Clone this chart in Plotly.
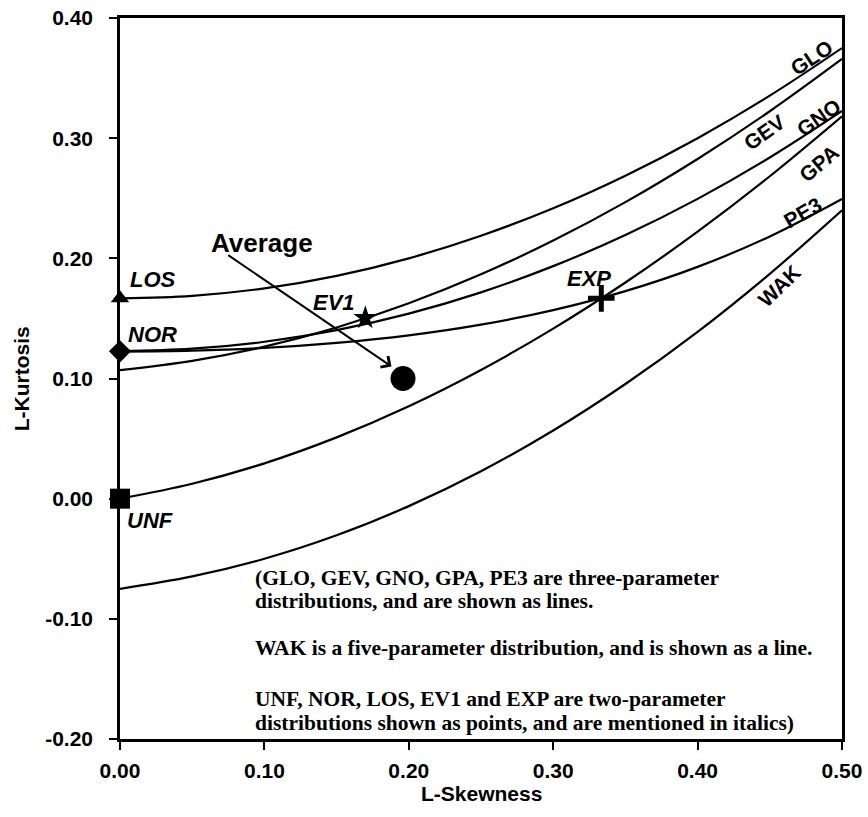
import plotly.graph_objects as go

# L-skewness grid for the theoretical curves
tau3 = [0.00, 0.05, 0.10, 0.15, 0.20, 0.25, 0.30, 0.35, 0.40, 0.45, 0.50]

# L-kurtosis of each three-parameter / five-parameter curve
glo = [0.1667, 0.1688, 0.1750, 0.1854, 0.2000, 0.2188, 0.2417, 0.2688, 0.3000, 0.3354, 0.3750]
gev = [0.1070, 0.1147, 0.1265, 0.1425, 0.1626, 0.1867, 0.2148, 0.2468, 0.2827, 0.3224, 0.3659]
gno = [0.1228, 0.1248, 0.1306, 0.1403, 0.1540, 0.1717, 0.1935, 0.2194, 0.2495, 0.2839, 0.3226]
gpa = [0.0000, 0.0124, 0.0294, 0.0510, 0.0769, 0.1071, 0.1415, 0.1799, 0.2222, 0.2683, 0.3182]
pe3 = [0.1224, 0.1232, 0.1255, 0.1297, 0.1359, 0.1448, 0.1569, 0.1727, 0.1929, 0.2182, 0.2494]
wak = [-0.0750, -0.0647, -0.0500, -0.0305, -0.0062, 0.0228, 0.0567, 0.0954, 0.1388, 0.1871, 0.2400]

curve_names = ["GLO", "GEV", "GNO", "GPA", "PE3", "WAK"]
curve_values = [glo, gev, gno, gpa, pe3, wak]

# two-parameter distributions (points)
point_names = ["UNF", "NOR", "LOS", "EV1", "EXP"]
point_x = [0.0, 0.0, 0.0, 0.1699, 0.3333]
point_y = [0.0, 0.1226, 0.1667, 0.1504, 0.1667]
point_symbols = ["square", "diamond", "triangle-up", "star", "cross-thin"]
point_sizes = [20, 17, 16, 18, 19]

# observed average
avg_x = [0.196]
avg_y = [0.100]

x_ticks = [0.0, 0.1, 0.2, 0.3, 0.4, 0.5]
y_ticks = [-0.2, -0.1, 0.0, 0.1, 0.2, 0.3, 0.4]

SANS = "Liberation Sans, Arial, sans-serif"
SERIF = "Liberation Serif, Times New Roman, serif"

fig = go.Figure()

for name, vals in zip(curve_names, curve_values):
    fig.add_trace(go.Scatter(x=tau3, y=vals, mode="lines", name=name,
                             line=dict(color="black", width=2.2, shape="spline"),
                             showlegend=False, cliponaxis=True))

for name, x, y, sym, sz in zip(point_names, point_x, point_y, point_symbols, point_sizes):
    marker = dict(symbol=sym, size=sz, color="black",
                  line=dict(color="black", width=5 if sym == "cross-thin" else 0))
    fig.add_trace(go.Scatter(x=[x], y=[y], mode="markers", name=name, marker=marker,
                             showlegend=False, cliponaxis=False))

fig.add_trace(go.Scatter(x=avg_x, y=avg_y, mode="markers", name="Average",
                         marker=dict(symbol="circle", size=25, color="black"),
                         showlegend=False, cliponaxis=False))

annotations = []

# rotated curve labels
curve_label_pos = {
    "GLO": (0.479, 0.367, -33),
    "GEV": (0.446, 0.305, -35),
    "GNO": (0.484, 0.317, -35),
    "GPA": (0.484, 0.279, -40),
    "PE3": (0.473, 0.238, -30),
    "WAK": (0.457, 0.177, -44),
}
for name, (x, y, ang) in curve_label_pos.items():
    annotations.append(dict(x=x, y=y, text="<b>%s</b>" % name, showarrow=False,
                            textangle=ang, font=dict(family=SANS, size=21, color="black")))

# italic point labels
point_label_pos = {
    "LOS": (0.0229, 0.182),
    "NOR": (0.0222, 0.137),
    "EV1": (0.148, 0.163),
    "EXP": (0.325, 0.183),
    "UNF": (0.0208, -0.018),
}
for name, (x, y) in point_label_pos.items():
    annotations.append(dict(x=x, y=y, text="<b><i>%s</i></b>" % name, showarrow=False,
                            font=dict(family=SANS, size=22, color="black")))

# Average label
annotations.append(dict(x=0.0983, y=0.213, text="<b>Average</b>", showarrow=False,
                        font=dict(family=SANS, size=26, color="black")))
# arrow
annotations.append(dict(x=0.188, y=0.110, ax=0.0739, ay=0.2035, xref="x", yref="y",
                        axref="x", ayref="y", text="", showarrow=True,
                        arrowhead=4, arrowsize=1.3, arrowwidth=2, arrowcolor="black"))

# explanatory text block
note_lines = [
    "(GLO, GEV, GNO, GPA, PE3 are three-parameter",
    "distributions, and are shown as lines.",
    "WAK is a five-parameter distribution, and is shown as a line.",
    "UNF, NOR, LOS, EV1 and EXP are two-parameter",
    "distributions shown as points, and are mentioned in italics)",
]
note_y = [-0.0663, -0.0854, -0.1246, -0.1671, -0.1863]
for txt, y in zip(note_lines, note_y):
    annotations.append(dict(x=0.092, y=y, text="<b>%s</b>" % txt, showarrow=False,
                            xanchor="left", yanchor="middle",
                            font=dict(family=SERIF, size=21.5, color="black")))

# axis titles
annotations.append(dict(x=0.5, y=-0.075, xref="paper", yref="paper", text="<b>L-Skewness</b>",
                        showarrow=False, xanchor="center", yanchor="middle",
                        font=dict(family=SANS, size=21, color="black")))
annotations.append(dict(x=-0.136, y=0.5, xref="paper", yref="paper", text="<b>L-Kurtosis</b>",
                        showarrow=False, xanchor="center", yanchor="middle", textangle=-90,
                        font=dict(family=SANS, size=21, color="black")))

fig.update_layout(
    width=868, height=817,
    margin=dict(l=120, r=26, t=18, b=78),
    paper_bgcolor="white", plot_bgcolor="white",
    annotations=annotations,
    showlegend=False,
)
fig.update_xaxes(range=[0, 0.5], tickvals=x_ticks, ticktext=["<b>%.2f</b>" % v for v in x_ticks],
                 automargin=False,
                 showgrid=False, zeroline=False, showline=True, linecolor="black",
                 linewidth=2.5, mirror=True, ticks="outside", ticklen=8, tickwidth=2,
                 tickcolor="black", ticklabelstandoff=3,
                 tickfont=dict(family=SANS, size=21, color="black"))
fig.update_yaxes(range=[-0.2, 0.4], tickvals=y_ticks, ticktext=["<b>%.2f</b>" % v for v in y_ticks],
                 automargin=False,
                 showgrid=False, zeroline=False, showline=True, linecolor="black",
                 linewidth=2.5, mirror=True, ticks="outside", ticklen=8, tickwidth=2,
                 tickcolor="black", ticklabelstandoff=12,
                 tickfont=dict(family=SANS, size=21, color="black"))

fig.write_html("out.html",
               config={"displayModeBar": False},
               post_script="document.body.style.margin='0px';document.body.style.overflow='hidden';")
